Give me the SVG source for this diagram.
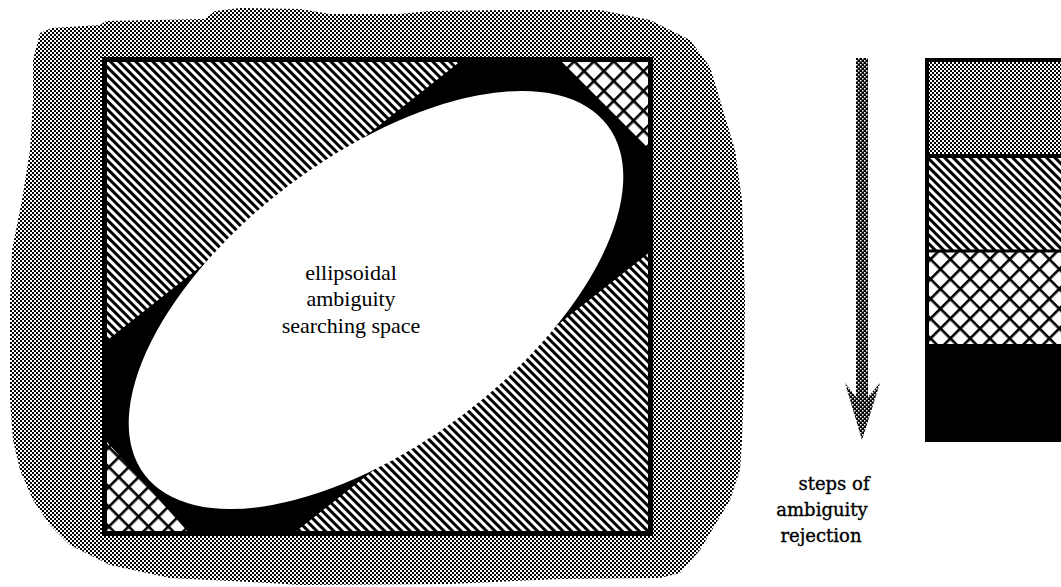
<svg xmlns="http://www.w3.org/2000/svg" width="1061" height="587" viewBox="0 0 1061 587">
<style>
  .lbl{font-family:"Liberation Serif","Times New Roman",serif;font-size:22px;fill:#000;text-anchor:middle}
  .cap{font-family:"DejaVu Serif",serif;font-size:18px;fill:#000;stroke:#000;stroke-width:0.35;text-anchor:middle}
  .edge{fill:none;stroke:#000;stroke-width:5}
</style>
<defs>
  <pattern id="dots" width="4" height="4" patternUnits="userSpaceOnUse">
    <rect width="4" height="4" fill="#fff"/>
    <rect width="2" height="2" fill="#000"/>
    <rect x="2" y="2" width="2" height="2" fill="#000"/>
  </pattern>
  <pattern id="darkdots" width="4" height="4" patternUnits="userSpaceOnUse">
    <rect width="4" height="4" fill="#000"/>
    <rect width="1.5" height="1.5" fill="#fff"/>
    <rect x="2" y="2" width="1.5" height="1.5" fill="#fff"/>
  </pattern>
  <pattern id="hatch" width="6" height="6" patternUnits="userSpaceOnUse" patternTransform="rotate(45)">
    <rect width="6" height="6" fill="#fff"/>
    <rect width="6" height="3" fill="#000"/>
  </pattern>
  <pattern id="cross" width="14" height="14" patternUnits="userSpaceOnUse" patternTransform="rotate(45)">
    <rect width="14" height="14" fill="#fff"/>
    <rect width="14" height="2.6" fill="#000"/>
    <rect width="2.6" height="14" fill="#000"/>
  </pattern>
  <clipPath id="sq"><rect x="104" y="59" width="547" height="475"/></clipPath>
  <clipPath id="lg"><rect x="925" y="56" width="140" height="388"/></clipPath>
</defs>

<g id="background-blob">
  <path fill="url(#dots)" d="M40,33 L52,28 L100,25 L106,21 L205,19 L215,11 L240,8 L300,9 L330,14 L400,14 L430,11 L520,10 L600,10 L650,20 L690,40 L710,67 L720,100 L735,150 L742,200 L745,300 L744,380 L742,440 L740,470 L730,500 L712,530 L700,550 L680,573 L660,578 L560,579 L450,584 L300,585 L270,583 L170,578 L110,565 L70,545 L50,525 L33,500 L20,470 L13,440 L10,400 L10,300 L12,250 L22,200 L30,150 L33,100 L33,60 Z"/>
</g>

<g id="search-square">
  <g clip-path="url(#sq)">
    <rect x="104" y="59" width="547" height="475" fill="#000"/>
    <polygon id="hatch-upper-left" points="100,55 466,55 462,60 105,342 100,346" fill="url(#hatch)"/>
    <polygon id="hatch-lower-right" points="294,533 650,252 656,248 656,540 288,540" fill="url(#hatch)"/>
    <polygon id="cross-upper-right" points="560,60 651,60 651,151" fill="url(#cross)"/>
    <polygon id="cross-lower-left" points="107,442 107,534 190,534" fill="url(#cross)"/>
    <ellipse id="ellipse" cx="376" cy="300" rx="290" ry="144" transform="rotate(-37 376 300)" fill="#fff"/>
  </g>
  <rect class="edge" x="104.5" y="59.5" width="546" height="474"/>
</g>

<g id="ellipse-label">
  <text class="lbl" x="351" y="280">ellipsoidal</text>
  <text class="lbl" x="351" y="306">ambiguity</text>
  <text class="lbl" x="351" y="333">searching space</text>
</g>

<g id="connectors">
  <polygon id="steps-arrow" points="856,58 868,58 868,397 880,383 862,440 845,383 856,397" fill="url(#darkdots)"/>
</g>

<g id="arrow-label">
  <text class="cap" x="834" y="490">steps of</text>
  <text class="cap" x="822" y="516">ambiguity</text>
  <text class="cap" x="821" y="542">rejection</text>
</g>

<g id="legend">
  <g clip-path="url(#lg)">
    <rect x="927" y="60" width="150" height="96" fill="url(#dots)"/>
    <rect x="927" y="156" width="150" height="95" fill="url(#hatch)"/>
    <rect x="927" y="251" width="150" height="93" fill="url(#cross)"/>
    <rect x="927" y="344" width="150" height="96" fill="#000"/>
    <rect x="927" y="60" width="150" height="380" fill="none" stroke="#000" stroke-width="4"/>
    <line x1="927" y1="156" x2="1077" y2="156" stroke="#000" stroke-width="4"/>
    <line x1="927" y1="251" x2="1077" y2="251" stroke="#000" stroke-width="3"/>
  </g>
</g>
</svg>
